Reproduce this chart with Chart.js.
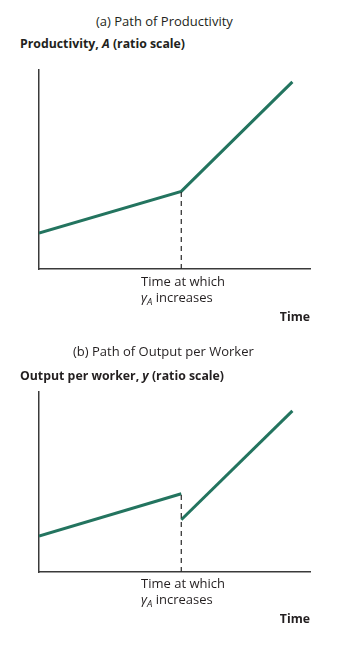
<!DOCTYPE html>
<html>
<head>
<meta charset="utf-8">
<script src="https://cdn.jsdelivr.net/npm/chart.js@4"></script>
<style>
  body { margin: 0; background: #fff; width: 340px; height: 646px; position: relative; overflow: hidden;
         font-family: "Open Sans", sans-serif; color: #231f20; }
  .txt { position: absolute; white-space: nowrap; line-height: 1; }
  .ttl { font-size: 13px; }
  .ax { font-size: 12.3px; font-weight: bold; }
  .lab { font-size: 13px; line-height: 16px; }
  .wrap { position: absolute; left: 0; width: 340px; }
  sub { font-size: 9.5px; font-style: italic; vertical-align: -3px; line-height: 0; }
</style>
</head>
<body>
<div class="txt ttl" style="left:96px; top:15px;">(a) Path of Productivity</div>
<div class="txt ax" style="left:20px; top:38px;">Productivity, <i>A</i> (ratio scale)</div>
<div class="wrap" style="top:60px; height:220px;"><canvas id="chartA"></canvas></div>
<div class="txt lab" style="left:141px; top:273px;">Time at which<br><span style="font-style:italic">γ</span><sub>A</sub> increases</div>
<div class="txt ax" style="right:30px; top:311px;">Time</div>

<div class="txt ttl" style="left:73px; top:345px;">(b) Path of Output per Worker</div>
<div class="txt ax" style="left:20px; top:370px;">Output per worker, <i>y</i> (ratio scale)</div>
<div class="wrap" style="top:380px; height:200px;"><canvas id="chartB"></canvas></div>
<div class="txt lab" style="left:141px; top:575px;">Time at which<br><span style="font-style:italic">γ</span><sub>A</sub> increases</div>
<div class="txt ax" style="right:30px; top:613px;">Time</div>

<script>
// time at which growth of A increases, and end of the plotted period
const shiftTime = 5.25;
const timeMax = 10;

// panel (a): productivity, A
const timeA = [0, 5.25, 9.35];
const prodA = [1.8, 3.9, 9.4];

// panel (b): output per worker, y (jumps down at the shift)
const timeB1 = [0, 5.25];
const outB1 = [2.0, 4.35];
const timeB2 = [5.25, 9.35];
const outB2 = [2.9, 8.95];

const green = "#23745f";
const axisColor = "#3a3a3a";

const toPoints = (xs, ys) => xs.map((x, i) => ({ x: x, y: ys[i] }));

function makeOptions(pad) {
  return {
    responsive: true,
    maintainAspectRatio: false,
    animation: false,
    layout: { padding: pad },
    plugins: { legend: { display: false }, tooltip: { enabled: false } },
    elements: { point: { radius: 0 } },
    scales: {
      x: {
        type: "linear", min: 0, max: timeMax,
        grid: { display: false, drawTicks: false },
        ticks: { display: false },
        border: { color: axisColor, width: 1.5 },
      },
      y: {
        type: "linear", min: 0, max: 10,
        grid: { display: false, drawTicks: false },
        ticks: { display: false },
        border: { color: axisColor, width: 1.5 },
      },
    },
  };
}

const dashStyle = {
  borderColor: "#2a2a2a", borderWidth: 1.2, borderDash: [5, 4],
};

new Chart(document.getElementById("chartA"), {
  type: "line",
  data: {
    datasets: [
      { data: [{ x: shiftTime, y: 0 }, { x: shiftTime, y: prodA[1] }], ...dashStyle },
      { data: toPoints(timeA, prodA), borderColor: green, borderWidth: 3 },
    ],
  },
  options: makeOptions({ left: 39, right: 30, top: 10, bottom: 11 }),
});

new Chart(document.getElementById("chartB"), {
  type: "line",
  data: {
    datasets: [
      { data: [{ x: shiftTime, y: 0 }, { x: shiftTime, y: outB1[1] }], ...dashStyle },
      { data: toPoints(timeB1, outB1), borderColor: green, borderWidth: 3 },
      { data: toPoints(timeB2, outB2), borderColor: green, borderWidth: 3 },
    ],
  },
  options: makeOptions({ left: 39, right: 30, top: 12, bottom: 8 }),
});
</script>
</body>
</html>
